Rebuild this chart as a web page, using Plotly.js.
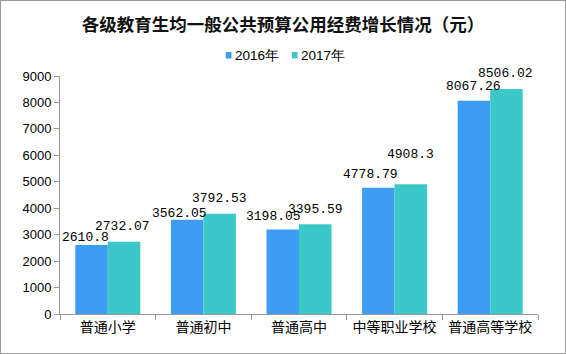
<!DOCTYPE html>
<html>
<head>
<meta charset="utf-8">
<script src="https://cdn.plot.ly/plotly-3.0.1.min.js"></script>
<style>
html,body{margin:0;padding:0;background:#fff;}
#chart{width:564px;height:352px;border:1px solid #9a9a9a;}
</style>
</head>
<body>
<div id="chart"></div>
<script>
const categories = ["普通小学", "普通初中", "普通高中", "中等职业学校", "普通高等学校"];
const seriesNames = ["2016年", "2017年"];
const values2016 = [2610.8, 3562.05, 3198.05, 4778.79, 8067.26];
const values2017 = [2732.07, 3792.53, 3395.59, 4908.3, 8506.02];
const labels2016 = ["2610.8", "3562.05", "3198.05", "4778.79", "8067.26"];
const labels2017 = ["2732.07", "3792.53", "3395.59", "4908.3", "8506.02"];
const yTicks = [0, 1000, 2000, 3000, 4000, 5000, 6000, 7000, 8000, 9000];
const colors = ["#3F9CF3", "#3CC8C8"];

// label placement tweaks (pixels) to mimic the reference's label positions
const labelDx2016 = [-6, -8, -9, -7.5, 0];
const labelGap2016 = [2, 1, 7, 8, 9];
const labelDx2017 = [-1.5, 0, 0, 0, -1];
const labelGap2017 = [10, 10, 9, 24, 10];

const labelFont = {family: "Liberation Mono, DejaVu Sans Mono, monospace", size: 13, color: "#000"};

const traces = [
  {type: "bar", name: seriesNames[0], x: categories, y: values2016,
   marker: {color: colors[0]}, hoverinfo: "none", showlegend: false},
  {type: "bar", name: seriesNames[1], x: categories, y: values2017,
   marker: {color: colors[1]}, hoverinfo: "none", showlegend: false}
];

const halfBar = 16.25;
const annotations = [];
categories.forEach((c, i) => {
  annotations.push({x: c, y: values2016[i], xref: "x", yref: "y", text: labels2016[i],
    showarrow: false, xanchor: "center", yanchor: "bottom", font: labelFont,
    xshift: -halfBar + labelDx2016[i], yshift: labelGap2016[i] - 4});
  annotations.push({x: c, y: values2017[i], xref: "x", yref: "y", text: labels2017[i],
    showarrow: false, xanchor: "center", yanchor: "bottom", font: labelFont,
    xshift: halfBar + labelDx2017[i], yshift: labelGap2017[i] - 4});
});

// custom legend (small square + text, as in the reference)
const legendFont = {family: "Liberation Sans, Arial", size: 13.5, color: "#000"};
const legX = [0.362, 0.5];
const legSq = [[0.3467, 0.3588], [0.4854, 0.4969]];
const shapes = [];
seriesNames.forEach((n, k) => {
  annotations.push({xref: "paper", yref: "paper", x: legX[k], y: 1.088, text: n,
    showarrow: false, xanchor: "left", yanchor: "middle", font: legendFont});
  shapes.push({type: "rect", xref: "paper", yref: "paper", x0: legSq[k][0], x1: legSq[k][1],
    y0: 1.0735, y1: 1.1008, fillcolor: colors[k], line: {width: 0}});
});

const layout = {
  width: 564, height: 352,
  margin: {l: 59, r: 27, t: 75, b: 39},
  paper_bgcolor: "#fff", plot_bgcolor: "#fff",
  barmode: "group", bargap: 0.32, bargroupgap: 0,
  title: {text: "<b>各级教育生均一般公共预算公用经费增长情况（元）</b>",
          font: {family: "Noto Sans CJK SC", size: 17.5, color: "#111"},
          x: 0.5, xref: "container", xanchor: "center", y: 0.931, yref: "container", yanchor: "middle"},
  showlegend: false,
  annotations: annotations,
  shapes: shapes,
  xaxis: {type: "category", showline: true, linecolor: "#999", linewidth: 1,
          ticks: "outside", tickson: "boundaries", ticklen: 5, tickcolor: "#999",
          tickfont: {family: "Noto Sans CJK SC", size: 14, color: "#000"},
          showgrid: false, zeroline: false},
  yaxis: {range: [0, 9000], tickvals: yTicks, showline: true, linecolor: "#999", linewidth: 1,
          ticks: "outside", ticklen: 5, tickcolor: "#999", showgrid: false, zeroline: false,
          tickfont: {family: "Liberation Sans, Arial", size: 13, color: "#000"}}
};

Plotly.newPlot("chart", traces, layout, {displayModeBar: false, staticPlot: true});
</script>
</body>
</html>
